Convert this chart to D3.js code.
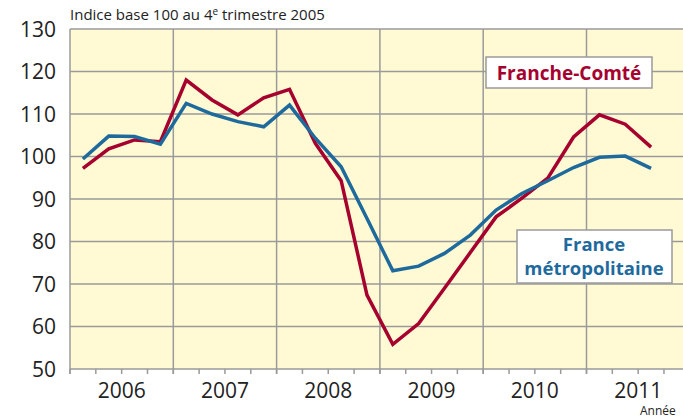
<!DOCTYPE html>
<html>
<head>
<meta charset="utf-8">
<script src="https://cdn.jsdelivr.net/npm/d3@7"></script>
<style>
  body { margin: 0; background: #fff; }
  svg { display: block; font-family: "Open Sans", sans-serif; }
</style>
</head>
<body>
<div id="chart"></div>
<script>
// Quarterly index, base 100 = Q4 2005, from 2006 Q1 to 2011 Q3
const years = [2006, 2007, 2008, 2009, 2010, 2011];
const yTicks = [50, 60, 70, 80, 90, 100, 110, 120, 130];
const franceComte = [97.2, 101.8, 103.9, 103.5, 118, 113.3, 109.8, 113.8, 115.8, 103.1, 94.3,
    67.4, 55.8, 60.7, 69.0, 77.4, 85.8, 90.2, 94.9, 104.6, 109.8, 107.6, 102.2];
const franceMetro = [99.4, 104.8, 104.7, 102.9, 112.5, 110, 108.2, 107, 112.1, 104.3, 97.6,
    85.4, 73.1, 74.2, 77.2, 81.5, 87.4, 91.3, 94.3, 97.4, 99.8, 100.1, 97.2];

const width = 683, height = 418;
const plotLeft = 70, plotTop = 29, plotBottom = 369;

const svg = d3.select('#chart').append('svg')
    .attr('width', width)
    .attr('height', height);

// one year is about 103 px wide, the plot runs off the right edge
const x = d3.scaleLinear().domain([2006, 2012]).range([plotLeft, plotLeft + 6 * 103.3]);
const y = d3.scaleLinear().domain([50, 130]).range([plotBottom, plotTop]);
const qx = i => x(2006 + (i + 0.5) / 4);

svg.append('rect')
    .attr('x', plotLeft).attr('y', plotTop)
    .attr('width', width - plotLeft).attr('height', plotBottom - plotTop)
    .attr('fill', '#fffad3');

const grid = '#9a9a9a';

svg.append('g')
    .selectAll('line')
    .data(yTicks)
    .join('line')
    .attr('x1', plotLeft).attr('x2', width)
    .attr('y1', d => y(d)).attr('y2', d => y(d))
    .attr('stroke', grid).attr('stroke-width', 1.5);

// year separators
svg.append('g')
    .selectAll('line')
    .data(d3.range(2006, 2012))
    .join('line')
    .attr('x1', d => x(d)).attr('x2', d => x(d))
    .attr('y1', plotTop).attr('y2', plotBottom + 5)
    .attr('stroke', grid).attr('stroke-width', 1.5);

// quarter ticks under the axis
svg.append('g')
    .selectAll('line')
    .data(d3.range(0, 24))
    .join('line')
    .attr('x1', d => x(2006 + d / 4)).attr('x2', d => x(2006 + d / 4))
    .attr('y1', plotBottom).attr('y2', plotBottom + 5)
    .attr('stroke', grid).attr('stroke-width', 1.5);

svg.append('g')
    .selectAll('text')
    .data(yTicks)
    .join('text')
    .attr('x', 56)
    .attr('y', d => y(d))
    .attr('dy', '0.36em')
    .attr('text-anchor', 'end')
    .attr('font-size', 21)
    .attr('fill', '#222')
    .text(d => d);

svg.append('g')
    .selectAll('text')
    .data(years)
    .join('text')
    .attr('x', d => x(d + 0.5))
    .attr('y', 398)
    .attr('text-anchor', 'middle')
    .attr('font-size', 21)
    .attr('fill', '#222')
    .text(d => d);

const title = svg.append('text')
    .attr('x', plotLeft)
    .attr('y', 20)
    .attr('font-size', 15)
    .attr('fill', '#222');
title.append('tspan').text('Indice base 100 au 4');
title.append('tspan').attr('dy', -5).attr('font-size', 10).text('e');
title.append('tspan').attr('dy', 5).text(' trimestre 2005');

svg.append('text')
    .attr('x', 640)
    .attr('y', 415)
    .attr('font-size', 12)
    .attr('fill', '#222')
    .text('Année');

const line = d3.line()
    .x((d, i) => qx(i))
    .y(d => y(d));

svg.append('path')
    .attr('d', line(franceComte))
    .attr('fill', 'none')
    .attr('stroke', '#a6002f')
    .attr('stroke-width', 3.5)
    .attr('stroke-linejoin', 'miter');

svg.append('path')
    .attr('d', line(franceMetro))
    .attr('fill', 'none')
    .attr('stroke', '#1f6a9d')
    .attr('stroke-width', 3.5)
    .attr('stroke-linejoin', 'miter');

// labels
svg.append('rect')
    .attr('x', 486).attr('y', 57)
    .attr('width', 166).attr('height', 31)
    .attr('fill', '#fff')
    .attr('stroke', '#9a9a9a').attr('stroke-width', 1.5);
svg.append('text')
    .attr('x', 569).attr('y', 80)
    .attr('text-anchor', 'middle')
    .attr('font-size', 19)
    .attr('font-weight', 'bold')
    .attr('fill', '#a6002f')
    .text('Franche-Comté');

svg.append('rect')
    .attr('x', 517).attr('y', 230)
    .attr('width', 155).attr('height', 53)
    .attr('fill', '#fff')
    .attr('stroke', '#9a9a9a').attr('stroke-width', 1.5);
svg.append('text')
    .attr('x', 594).attr('y', 251)
    .attr('text-anchor', 'middle')
    .attr('font-size', 18.5)
    .attr('font-weight', 'bold')
    .attr('fill', '#1f6a9d')
    .text('France');
svg.append('text')
    .attr('x', 594).attr('y', 275)
    .attr('text-anchor', 'middle')
    .attr('font-size', 18.5)
    .attr('font-weight', 'bold')
    .attr('fill', '#1f6a9d')
    .text('métropolitaine');
</script>
</body>
</html>
